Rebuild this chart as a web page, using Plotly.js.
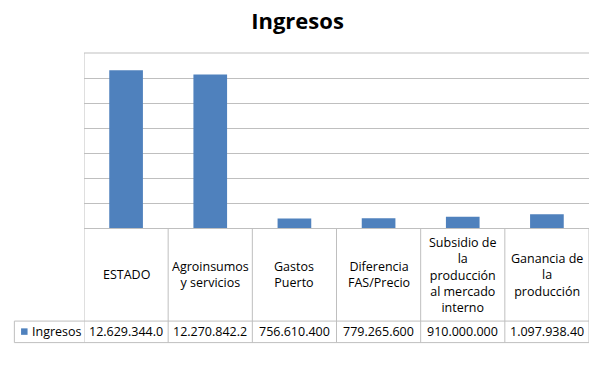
<!DOCTYPE html>
<html>
<head>
<meta charset="utf-8">
<script src="https://cdn.plot.ly/plotly-3.0.1.min.js"></script>
<style>html,body{margin:0;padding:0;background:#fff;}#chart{width:600px;height:370px;}</style>
</head>
<body>
<div id="chart"></div>
<script>
var categories = ["ESTADO", "Agroinsumos y servicios", "Gastos Puerto", "Diferencia FAS/Precio", "Subsidio de la producción al mercado interno", "Ganancia de la producción"];
var categoryLabels = ["ESTADO", "Agroinsumos<br>y servicios", "Gastos<br>Puerto", "Diferencia<br>FAS/Precio", "Subsidio de<br>la<br>producción<br>al mercado<br>interno", "Ganancia de<br>la<br>producción"];
var values = [12629344.0, 12270842.2, 756610.4, 779265.6, 910000.0, 1097938.4];
var valueLabels = ["12.629.344.0", "12.270.842.2", "756.610.400", "779.265.600", "910.000.000", "1.097.938.40"];
var seriesName = "Ingresos";

var barColor = "#4F81BD";
var lineColor = "#BFBFBF";
var font = "'Open Sans', 'Noto Sans', sans-serif";
var tableFontSize = 12.5;

var W = 600, H = 370;
var L = 84, R = 589.5, T = 52.7, B = 228.3;
function py(p) { return (B - p) / (B - T); }
function px(p) { return (p - L) / (R - L); }

var rowTop = 321.7, rowBot = 343.3, leftX = 14.3;

var shapes = [];
var annotations = [];
// vertical lines of the category/value table
for (var k = 0; k <= categories.length; k++) {
  shapes.push({type: "line", xref: "x", yref: "paper", x0: k - 0.5, x1: k - 0.5, y0: py(rowBot), y1: k === 0 ? 1 : 0,
    line: {color: lineColor, width: 1}});
}
shapes.push({type: "line", xref: "paper", yref: "paper", x0: px(leftX), x1: 1, y0: py(rowTop), y1: py(rowTop), line: {color: lineColor, width: 1}});
shapes.push({type: "line", xref: "paper", yref: "paper", x0: px(leftX), x1: 1, y0: py(rowBot), y1: py(rowBot), line: {color: lineColor, width: 1}});
shapes.push({type: "line", xref: "paper", yref: "paper", x0: px(leftX), x1: px(leftX), y0: py(rowBot), y1: py(rowTop), line: {color: lineColor, width: 1}});
shapes.push({type: "line", xref: "paper", yref: "paper", x0: 0, x1: 1, y0: 1, y1: 1, line: {color: lineColor, width: 1}});
// legend key
shapes.push({type: "rect", xref: "paper", yref: "paper", x0: px(21), x1: px(27.5), y0: py(335.5), y1: py(329), line: {width: 0}, fillcolor: barColor});

categories.forEach(function (c, i) {
  annotations.push({xref: "x", yref: "paper", x: c, y: py(275), text: categoryLabels[i], showarrow: false,
    xanchor: "center", yanchor: "middle", align: "center", font: {family: font, size: tableFontSize, color: "#000"}});
  annotations.push({xref: "x", yref: "paper", x: c, y: py(332.5), text: valueLabels[i], showarrow: false,
    xanchor: "center", yanchor: "middle", font: {family: font, size: tableFontSize, color: "#000"}});
});
annotations.push({xref: "paper", yref: "paper", x: px(30), y: py(332.5), text: seriesName, showarrow: false,
  xanchor: "left", yanchor: "middle", font: {family: font, size: tableFontSize, color: "#000"}});

var trace = {type: "bar", x: categories, y: values, name: seriesName, width: 0.4,
  marker: {color: barColor}, hoverinfo: "none"};

var layout = {
  width: W, height: H,
  margin: {l: L, r: W - R, t: T, b: H - B, pad: 0},
  paper_bgcolor: "#fff", plot_bgcolor: "#fff",
  showlegend: false,
  title: {text: "<b>Ingresos</b>", x: 297.5 / W, xref: "container", xanchor: "center",
    y: 1 - 21 / H, yref: "container", yanchor: "middle",
    font: {family: font, size: 22, color: "#000"}},
  xaxis: {type: "category", range: [-0.5, categories.length - 0.5], showticklabels: false, ticks: "",
    showgrid: false, zeroline: false, showline: false, fixedrange: true},
  yaxis: {range: [0, 14000000], dtick: 2000000, showticklabels: false, ticks: "",
    showgrid: true, gridcolor: lineColor, gridwidth: 1, zeroline: true, zerolinecolor: lineColor, zerolinewidth: 1,
    showline: false, fixedrange: true},
  shapes: shapes,
  annotations: annotations
};

Plotly.newPlot("chart", [trace], layout, {displayModeBar: false, staticPlot: true});
</script>
</body>
</html>
